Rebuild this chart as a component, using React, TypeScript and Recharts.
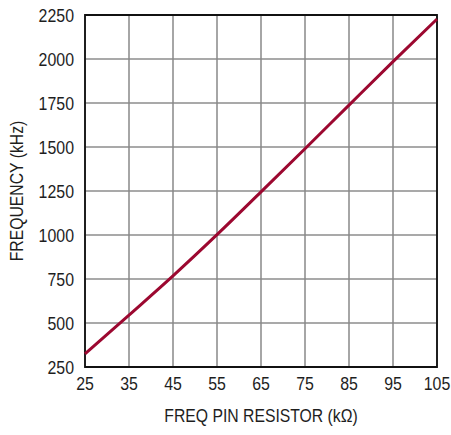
import { LineChart, Line, XAxis, YAxis, CartesianGrid, ReferenceArea } from 'recharts'

const resistorK = [25, 35, 45, 55, 65, 75, 85, 95, 105]
const frequencyKHz = [324, 545, 768, 1002, 1245, 1490, 1738, 1985, 2227]
const xTicks = [25, 35, 45, 55, 65, 75, 85, 95, 105]
const yTicks = [250, 500, 750, 1000, 1250, 1500, 1750, 2000, 2250]

const data = resistorK.map((r, i) => ({ r, f: frequencyKHz[i] }))

const font = '"Liberation Sans", Arial, sans-serif'
const ink = '#1e1e1e'
// no narrow face installed, so squeeze the glyphs horizontally
const tickSqueeze = 0.86
const labelSqueeze = 0.83

const XTick = ({ x, y, payload }: any) => (
  <g transform={`translate(${x},${y}) scale(${tickSqueeze},1)`}>
    <text textAnchor="middle" dy="0.71em" fontSize={18.5} fill={ink} fontFamily={font}>
      {payload.value}
    </text>
  </g>
)

const YTick = ({ x, y, payload }: any) => (
  <g transform={`translate(${x},${y}) scale(${tickSqueeze},1)`}>
    <text textAnchor="end" dy="0.355em" fontSize={18.5} fill={ink} fontFamily={font}>
      {payload.value}
    </text>
  </g>
)

const XLabel = ({ viewBox }: any) => (
  <g transform={`translate(${viewBox.x + viewBox.width / 2},${viewBox.y + viewBox.height - 13}) scale(${labelSqueeze},1)`}>
    <text textAnchor="middle" fontSize={19} fill={ink} fontFamily={font}>
      FREQ PIN RESISTOR (kΩ)
    </text>
  </g>
)

const YLabel = ({ viewBox }: any) => (
  <g transform={`translate(${viewBox.x + 16},${viewBox.y + viewBox.height / 2}) rotate(-90) scale(${labelSqueeze},1)`}>
    <text textAnchor="middle" dy="0.355em" fontSize={19} fill={ink} fontFamily={font}>
      FREQUENCY (kHz)
    </text>
  </g>
)

export default function App() {
  return (
    <div style={{ position: 'absolute', left: 0, top: 0, background: 'white' }}>
      <LineChart width={451} height={435} data={data} margin={{ top: 15, right: 14, left: 0, bottom: 0 }}>
        <CartesianGrid vertical={false} stroke="#555" strokeWidth={1.2} />
        <CartesianGrid horizontal={false} stroke="#888" strokeWidth={1.5} />
        <XAxis
          dataKey="r"
          type="number"
          domain={[25, 105]}
          ticks={xTicks}
          height={68}
          tickLine={false}
          axisLine={false}
          tickMargin={4}
          tick={<XTick />}
          label={{ content: XLabel }}
        />
        <YAxis
          type="number"
          domain={[250, 2250]}
          ticks={yTicks}
          width={85}
          tickLine={false}
          axisLine={false}
          tickMargin={5}
          tick={<YTick />}
          label={{ content: YLabel }}
        />
        <ReferenceArea x1={25} x2={105} y1={250} y2={2250} fill="none" fillOpacity={0} stroke="#111" strokeWidth={1.8} ifOverflow="visible" />
        <Line dataKey="f" type="monotone" stroke="#9c0830" strokeWidth={3} dot={false} isAnimationActive={false} />
      </LineChart>
    </div>
  )
}
